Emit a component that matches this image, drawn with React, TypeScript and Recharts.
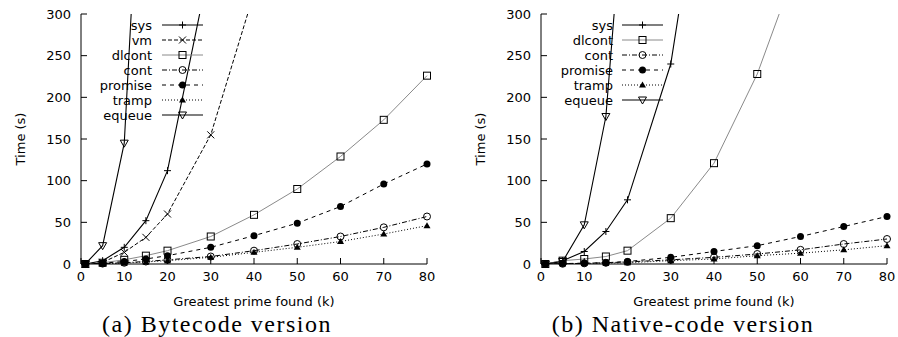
import { Legend, Line, LineChart, XAxis, YAxis } from "recharts";

// greatest prime found, in thousands
const primeK = [1, 5, 10, 15, 20, 30, 40, 50, 60, 70, 80];
const xTicks = [0, 10, 20, 30, 40, 50, 60, 70, 80];
const timeTicks = [0, 50, 100, 150, 200, 250, 300];

// (a) bytecode runs, seconds
const bcSys = [0, 4, 20, 52, 112, 365, null, null, null, null, null];
const bcVm = [0, 2, 14, 32, 60, 155, 325, null, null, null, null];
const bcDlcont = [0, 1.5, 5, 10, 16, 33, 59, 90, 129, 173, 226];
const bcCont = [0, 0.5, 1.5, 3, 5, 9, 16, 24, 33, 44, 57];
const bcPromise = [0, 1, 3, 6, 10, 20, 34, 49, 69, 96, 120];
const bcTramp = [0, 0.3, 1, 2.5, 4, 8, 14, 20, 27, 36, 46];
const bcEqueue = [0, 22, 145, 630, null, null, null, null, null, null, null];

// (b) native-code runs, seconds
const ncSys = [0, 4, 15, 39, 77, 240, 570, null, null, null, null];
const ncDlcont = [0, 4, 6, 9, 16, 55, 121, 228, 370, null, null];
const ncCont = [0, 0.3, 0.8, 1.5, 2.5, 5, 8, 12, 17, 24, 30];
const ncPromise = [0, 0.5, 1, 1.5, 3, 8, 15, 22, 33, 45, 57];
const ncTramp = [0, 0.2, 0.5, 1, 1.5, 4, 6, 10, 13, 17, 22];
const ncEqueue = [0, 3, 47, 177, 500, null, null, null, null, null, null];

type MarkKind = "plus" | "cross" | "square" | "circle" | "disc" | "triangle" | "nabla";
type SeriesStyle = { mark: MarkKind; stroke: string; dash?: string; width: number };
type Series = { key: string; values: (number | null)[] };

const looks: Record<string, SeriesStyle> = {
  sys: { mark: "plus", stroke: "#000", width: 1.1 },
  vm: { mark: "cross", stroke: "#000", dash: "4 2", width: 1 },
  dlcont: { mark: "square", stroke: "#8a8a8a", width: 1 },
  cont: { mark: "circle", stroke: "#000", dash: "5 2 1 2", width: 1 },
  promise: { mark: "disc", stroke: "#000", dash: "4 4", width: 1 },
  tramp: { mark: "triangle", stroke: "#000", dash: "1 2", width: 1 },
  equeue: { mark: "nabla", stroke: "#000", width: 1.1 },
};

const bytecode: Series[] = [
  { key: "sys", values: bcSys },
  { key: "vm", values: bcVm },
  { key: "dlcont", values: bcDlcont },
  { key: "cont", values: bcCont },
  { key: "promise", values: bcPromise },
  { key: "tramp", values: bcTramp },
  { key: "equeue", values: bcEqueue },
];

const native: Series[] = [
  { key: "sys", values: ncSys },
  { key: "dlcont", values: ncDlcont },
  { key: "cont", values: ncCont },
  { key: "promise", values: ncPromise },
  { key: "tramp", values: ncTramp },
  { key: "equeue", values: ncEqueue },
];

const SANS = "DejaVu Sans";
const FS = 13;

function toRows(series: Series[]) {
  return primeK.map((x, i) => {
    const row: Record<string, number | null> = { x };
    series.forEach((s) => {
      row[s.key] = s.values[i] ?? null;
    });
    return row;
  });
}

function Marker({ kind, cx, cy }: { kind: MarkKind; cx: number; cy: number }) {
  const s = 3.5;
  const ink = { stroke: "#000", strokeWidth: 1, fill: "none" };
  switch (kind) {
    case "plus":
      return <path d={`M${cx - s} ${cy}H${cx + s}M${cx} ${cy - s}V${cy + s}`} {...ink} />;
    case "cross":
      return <path d={`M${cx - s} ${cy - s}L${cx + s} ${cy + s}M${cx - s} ${cy + s}L${cx + s} ${cy - s}`} {...ink} />;
    case "square":
      return <rect x={cx - s} y={cy - s} width={2 * s} height={2 * s} {...ink} />;
    case "circle":
      return <circle cx={cx} cy={cy} r={s} {...ink} />;
    case "disc":
      return <circle cx={cx} cy={cy} r={s} fill="#000" />;
    case "triangle":
      return <path d={`M${cx} ${cy - s}L${cx + s} ${cy + 2.5}L${cx - s} ${cy + 2.5}Z`} fill="#000" />;
    case "nabla":
      return <path d={`M${cx - 4} ${cy - 3}L${cx + 4} ${cy - 3}L${cx} ${cy + 4}Z`} {...ink} />;
  }
  return null;
}

// tick labels drawn by hand so the font is exactly what we ask for
function BottomTick(p: any) {
  return (
    <text x={p.x} y={p.y} dy="0.71em" textAnchor="middle" fontFamily={SANS} fontSize={FS} fill="#000">
      {p.payload.value}
    </text>
  );
}

function LeftTick(p: any) {
  return (
    <text x={p.x} y={p.y} dy="0.36em" textAnchor="end" fontFamily={SANS} fontSize={FS} fill="#000">
      {p.payload.value}
    </text>
  );
}

function KeyBox({ series, textRight, lineFrom, lineTo }: { series: Series[]; textRight: number; lineFrom: number; lineTo: number }) {
  return (
    <svg width={lineTo + 6} height={130} style={{ display: "block", overflow: "visible" }}>
      {series.map((s, i) => {
        const y = 25 + i * 15;
        const look = looks[s.key];
        return (
          <g key={s.key}>
            <text x={textRight} y={y} dy="0.36em" textAnchor="end" fontFamily={SANS} fontSize={FS} fill="#000">
              {s.key}
            </text>
            <line x1={lineFrom} x2={lineTo} y1={y} y2={y} stroke={look.stroke} strokeWidth={look.width} strokeDasharray={look.dash} />
            <Marker kind={look.mark} cx={(lineFrom + lineTo) / 2} cy={y} />
          </g>
        );
      })}
    </svg>
  );
}

function Panel({ series, plotLeft, plotRight, titleX, keyText, keyLine }: {
  series: Series[];
  plotLeft: number;
  plotRight: number;
  titleX: number;
  keyText: number;
  keyLine: [number, number];
}) {
  const W = 449;
  const H = 337;
  return (
    <LineChart width={W} height={H} data={toRows(series)} margin={{ top: 14, right: W - plotRight, bottom: 43, left: 0 }}>
      <XAxis
        dataKey="x"
        type="number"
        domain={[0, 80]}
        ticks={xTicks}
        height={30}
        stroke="#000"
        tickSize={-6}
        tickMargin={14}
        tick={<BottomTick />}
        label={{ value: "Greatest prime found (k)", position: "bottom", offset: 3, fill: "#000", fontSize: FS, fontFamily: SANS }}
      />
      <XAxis xAxisId="top" orientation="top" dataKey="x" type="number" domain={[0, 80]} ticks={xTicks} height={0} stroke="#000" tickSize={-6} tick={false} />
      <YAxis
        type="number"
        domain={[0, 300]}
        ticks={timeTicks}
        allowDataOverflow
        width={plotLeft}
        stroke="#000"
        tickSize={-6}
        tickMargin={16}
        tick={<LeftTick />}
        label={{ value: "Time (s)", angle: -90, position: "insideLeft", offset: titleX, fill: "#000", fontSize: FS, fontFamily: SANS, style: { textAnchor: "middle" } }}
      />
      <YAxis yAxisId="right" orientation="right" type="number" domain={[0, 300]} ticks={timeTicks} width={0} stroke="#000" tickSize={-6} tick={false} />
      <Legend
        layout="vertical"
        align="center"
        verticalAlign="middle"
        wrapperStyle={{ left: 0, top: 0, width: keyLine[1] + 6, height: 130 }}
        content={() => <KeyBox series={series} textRight={keyText} lineFrom={keyLine[0]} lineTo={keyLine[1]} />}
      />
      {series.map((s) => {
        const look = looks[s.key];
        return (
          <Line
            key={s.key}
            dataKey={s.key}
            type="linear"
            stroke={look.stroke}
            strokeWidth={look.width}
            strokeDasharray={look.dash}
            isAnimationActive={false}
            dot={(p: any) =>
              p.cx == null || p.cy == null || p.value == null ? (
                <g key={`${s.key}-${p.index}`} />
              ) : (
                <g key={`${s.key}-${p.index}`}>
                  <Marker kind={look.mark} cx={p.cx} cy={p.cy} />
                </g>
              )
            }
            activeDot={false}
          />
        );
      })}
    </LineChart>
  );
}

export default function App() {
  return (
    <div style={{ position: "absolute", left: 0, top: 0, width: 898, height: 337, background: "#fff", overflow: "hidden" }}>
      {/* markers sitting on the zero line stay whole */}
      <style>{".recharts-line-dots { clip-path: none; }"}</style>
      <div style={{ position: "absolute", left: 0, top: 0 }}>
        <Panel series={bytecode} plotLeft={81} plotRight={427} titleX={20} keyText={152} keyLine={[162, 203]} />
      </div>
      <div style={{ position: "absolute", left: 449, top: 0 }}>
        <Panel series={native} plotLeft={92} plotRight={438} titleX={31} keyText={164} keyLine={[173, 214]} />
      </div>
      <svg width={898} height={337} style={{ position: "absolute", left: 0, top: 0, pointerEvents: "none" }}>
        <text x={217} y={332} textAnchor="middle" fontFamily="Liberation Serif" fontSize={24} letterSpacing={1.5} fill="#000">
          (a) Bytecode version
        </text>
        <text x={683} y={332} textAnchor="middle" fontFamily="Liberation Serif" fontSize={24} letterSpacing={1.5} fill="#000">
          (b) Native-code version
        </text>
      </svg>
    </div>
  );
}
